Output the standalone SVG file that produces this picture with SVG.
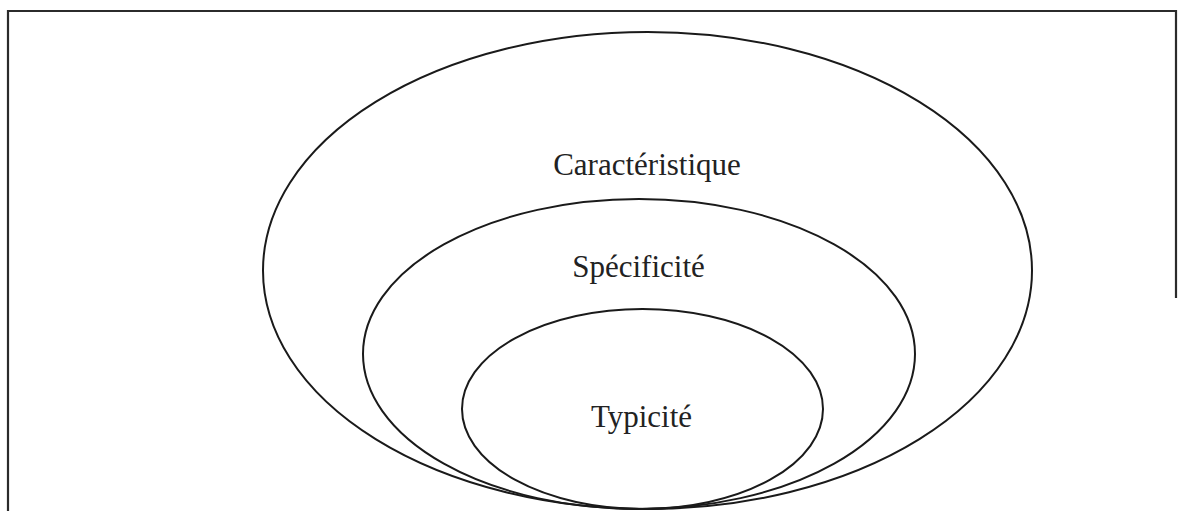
<svg xmlns="http://www.w3.org/2000/svg" width="1178" height="511" viewBox="0 0 1178 511">
<style>
.e{fill:none;stroke:#1a1a1a;stroke-width:2}
.t{font-family:"Liberation Serif","Times New Roman",serif;font-size:31px;fill:#222;text-anchor:middle}
.b{fill:none;stroke:#2b2b2b;stroke-width:2.2}
</style>
<rect width="1178" height="511" fill="#fff"/>
<g id="frame">
<path class="b" d="M8,511 V11 H1176 V298"/>
</g>
<g id="caracteristique">
<ellipse class="e" cx="647.5" cy="270.5" rx="384.5" ry="238.5"/>
<text class="t" x="647" y="175">Caractéristique</text>
</g>
<g id="specificite">
<ellipse class="e" cx="639" cy="354" rx="276" ry="155"/>
<text class="t" x="638.5" y="277">Spécificité</text>
</g>
<g id="typicite">
<ellipse class="e" cx="642.5" cy="409" rx="180.5" ry="100"/>
<text class="t" x="641.5" y="427">Typicité</text>
</g>
<g id="connectors"/>
</svg>
